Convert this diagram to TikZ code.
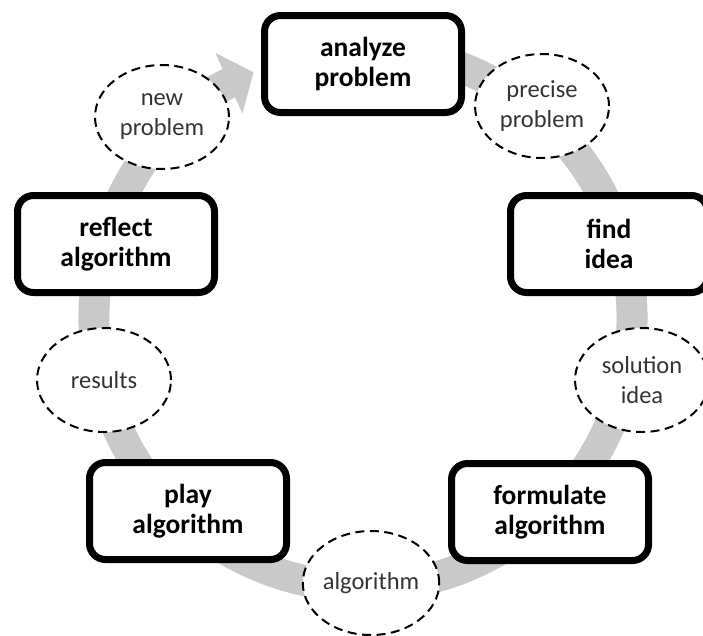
\documentclass[tikz,border=0pt]{standalone}
\usepackage{fontspec}
\setmainfont{Carlito}
\usetikzlibrary{arrows.meta,shadows,shapes.geometric}
\begin{document}
\begin{tikzpicture}[x=1pt,y=-1pt,
  stepbox/.style={draw=black, line width=7pt, fill=white, rounded corners=16pt,
    minimum width=197pt, minimum height=97pt, inner sep=0pt, align=center,
    font=\bfseries\fontsize{27.5}{30}\selectfont,
    drop shadow={shadow xshift=1.5pt, shadow yshift=-3pt, opacity=0.25}},
  dataell/.style={ellipse, draw=black, dash pattern=on 9pt off 5.5pt, line width=2pt,
    fill=white, minimum width=134pt, minimum height=104pt, inner sep=0pt,
    align=center, text=black!80, font=\fontsize{24.5}{30}\selectfont},
  band/.style={line width=31pt, draw=black!21, -{Triangle[width=65pt,length=27pt]}}]
\useasboundingbox (0,0) rectangle (703,635);
\coordinate (ctr) at (363,318);
\draw[band] (ctr) ++(-80:269) arc[start angle=-80, end angle=246, radius=269];
\node[dataell] (np) at (162,117) {new\\problem};
\node[dataell] (pp) at (542,106) {precise\\problem};
\node[dataell] (si) at (642,380) {solution\\idea};
\node[dataell] (al) at (371,583) {algorithm};
\node[dataell] (re) at (104,380) {results};
\node[stepbox] (ap) at (363,64) {analyze\\problem};
\node[stepbox] (fi) at (609,244) {find\\idea};
\node[stepbox] (fa) at (550,512) {formulate\\algorithm};
\node[stepbox] (pa) at (188,511) {play\\algorithm};
\node[stepbox] (ra) at (116,244) {reflect\\algorithm};
\end{tikzpicture}
\end{document}
